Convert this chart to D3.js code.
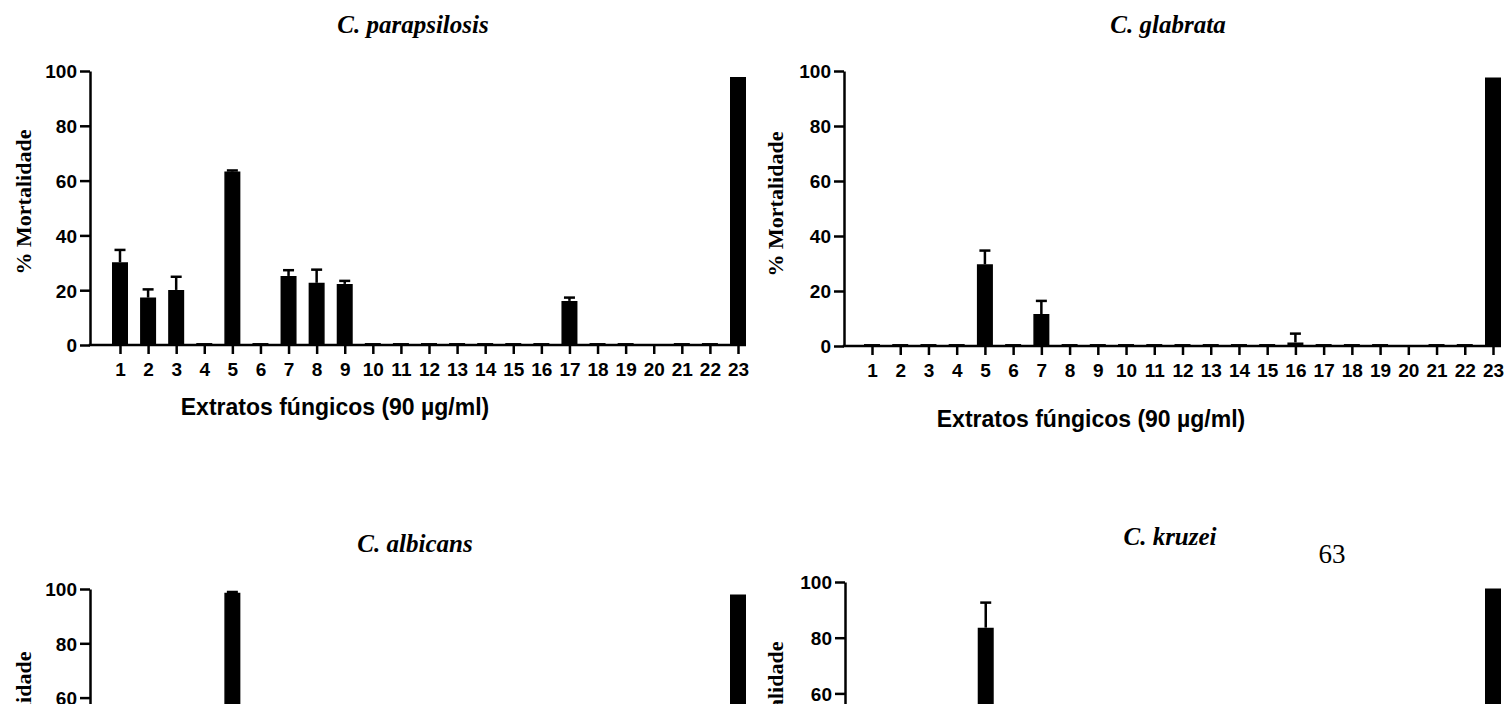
<!DOCTYPE html>
<html>
<head>
<meta charset="utf-8">
<script src="https://cdn.jsdelivr.net/npm/d3@7"></script>
<style>
  html, body { margin: 0; padding: 0; background: #fff; }
  svg { display: block; }
  .sans { font-family: "Liberation Sans", Arial, sans-serif; font-weight: bold; }
  .serif { font-family: "Liberation Serif", "Times New Roman", serif; font-weight: bold; }
</style>
</head>
<body>
<svg id="chart" width="1506" height="704"></svg>
<script>
// ---------------- DATA ----------------
const categories = ["1","2","3","4","5","6","7","8","9","10","11","12","13","14","15","16","17","18","19","20","21","22","23"];
const yTicks = [0, 20, 40, 60, 80, 100];
const yLabel = "% Mortalidade";
const xLabel = "Extratos fúngicos (90 µg/ml)";
const pageNumber = "63";

const titles = ["C. parapsilosis", "C. glabrata", "C. albicans", "C. kruzei"];

// mean % mortality (null = no bar)
const parapsilosisMean = [30.2, 17.3, 20.1, 0, 63.3, 0, 25.2, 22.7, 22.3, 0, 0, 0, 0, 0, 0, 0, 16.1, 0, 0, null, 0, 0, 97.8];
const parapsilosisErr  = [4.5, 3.0, 4.8, 0, 0.4, 0, 2.1, 4.8, 1.1, 0, 0, 0, 0, 0, 0, 0, 1.2, 0, 0, null, 0, 0, 0];

const glabrataMean = [0, 0, 0, 0, 29.7, 0, 11.6, 0, 0, 0, 0, 0, 0, 0, 0, 1.3, 0, 0, 0, null, 0, 0, 97.6];
const glabrataErr  = [0, 0, 0, 0, 5.0, 0, 4.8, 0, 0, 0, 0, 0, 0, 0, 0, 3.2, 0, 0, 0, null, 0, 0, 0];

// only the upper part of these panels is visible in the picture
const albicansMean = [0, 0, 0, 0, 98.6, 0, 0, 0, 0, 0, 0, 0, 0, 0, 0, 0, 0, 0, 0, null, 0, 0, 98.0];
const albicansErr  = [0, 0, 0, 0, 0.3, 0, 0, 0, 0, 0, 0, 0, 0, 0, 0, 0, 0, 0, 0, null, 0, 0, 0];

const kruzeiMean = [0, 0, 0, 0, 83.6, 0, 0, 0, 0, 0, 0, 0, 0, 0, 0, 0, 0, 0, 0, null, 0, 0, 97.7];
const kruzeiErr  = [0, 0, 0, 0, 9.0, 0, 0, 0, 0, 0, 0, 0, 0, 0, 0, 0, 0, 0, 0, null, 0, 0, 0];

// ---------------- LAYOUT ----------------
const W = 1506, H = 704;
const panels = [
  { title: titles[0], mean: parapsilosisMean, err: parapsilosisErr,
    axisX: 90, y0: 345, y100: 71, xFirst: 120, xLast: 738,
    titlePos: [413, 33], yLabPos: [31, 202], xLabPos: [335, 415] },
  { title: titles[1], mean: glabrataMean, err: glabrataErr,
    axisX: 844, y0: 346, y100: 71, xFirst: 872, xLast: 1493,
    titlePos: [1168, 33], yLabPos: [783, 204], xLabPos: [1091, 427] },
  { title: titles[2], mean: albicansMean, err: albicansErr,
    axisX: 90, y0: 860.5, y100: 589, xFirst: 120, xLast: 738,
    titlePos: [415, 552], yLabPos: [31, 724], xLabPos: [335, 930] },
  { title: titles[3], mean: kruzeiMean, err: kruzeiErr,
    axisX: 845, y0: 860.5, y100: 582, xFirst: 873, xLast: 1493,
    titlePos: [1170, 545], yLabPos: [783, 714], xLabPos: [1091, 940] }
];

const svg = d3.select("#chart");
const BAR_W = 16;
const AXIS_W = 2.5;

panels.forEach(p => {
  const g = svg.append("g");
  const y = d3.scaleLinear().domain([0, 100]).range([p.y0, p.y100]);
  const x = d3.scalePoint().domain(categories).range([p.xFirst, p.xLast]);

  // bars
  const rows = categories.map((c, i) => ({ c, v: p.mean[i], e: p.err[i] }))
    .filter(d => d.v !== null);
  const base = p.y0 - 1.2;
  g.selectAll("path.bar").data(rows).join("path")
    .attr("class", "bar")
    .attr("d", d => {
      const cx = x(d.c);
      const top = Math.min(y(d.v), base);
      return `M${cx - BAR_W / 2 + 0.75},${base} V${top + 0.75} H${cx + BAR_W / 2 - 0.75} V${base} Z`;
    })
    .attr("fill", "#000").attr("stroke", "#000").attr("stroke-width", 1.5);

  // error bars (upper only)
  const errRows = rows.filter(d => d.e > 0);
  g.selectAll("line.err").data(errRows).join("line")
    .attr("x1", d => x(d.c)).attr("x2", d => x(d.c))
    .attr("y1", d => y(d.v)).attr("y2", d => y(d.v + d.e))
    .attr("stroke", "#000").attr("stroke-width", AXIS_W);
  g.selectAll("line.cap").data(errRows).join("line")
    .attr("x1", d => x(d.c) - 5.5).attr("x2", d => x(d.c) + 5.5)
    .attr("y1", d => y(d.v + d.e)).attr("y2", d => y(d.v + d.e))
    .attr("stroke", "#000").attr("stroke-width", AXIS_W);

  // y axis (only the ticks that fall inside the picture)
  const visibleTicks = yTicks.filter(t => y(t) < H + 6);
  const yAxis = d3.axisLeft(y).tickValues(visibleTicks).tickSize(10).tickSizeOuter(0).tickPadding(3);
  const ya = g.append("g").attr("transform", `translate(${p.axisX},0)`).call(yAxis);
  ya.select(".domain").attr("stroke", "#000").attr("stroke-width", AXIS_W);
  ya.selectAll(".tick line").attr("stroke", "#000").attr("stroke-width", AXIS_W);
  ya.selectAll(".tick text").attr("class", "sans").attr("font-size", 19).attr("fill", "#000")
    .attr("dy", "0.36em");

  // x axis (only when inside the picture)
  if (p.y0 < H) {
    const xAxis = d3.axisBottom(x).tickSize(9).tickSizeOuter(0).tickPadding(4);
    const xa = g.append("g").attr("transform", `translate(0,${p.y0})`).call(xAxis);
    xa.select(".domain").remove();
    xa.append("line")
      .attr("x1", p.axisX - AXIS_W / 2).attr("x2", p.xLast + BAR_W / 2)
      .attr("y1", 0).attr("y2", 0)
      .attr("stroke", "#000").attr("stroke-width", AXIS_W);
    xa.selectAll(".tick line").attr("stroke", "#000").attr("stroke-width", AXIS_W);
    xa.selectAll(".tick text").attr("class", "sans").attr("font-size", 19).attr("fill", "#000")
      .attr("dy", "0.95em");

    g.append("text").attr("class", "sans")
      .attr("x", p.xLabPos[0]).attr("y", p.xLabPos[1])
      .attr("text-anchor", "middle").attr("font-size", 23)
      .text(xLabel);
  }

  // titles
  g.append("text").attr("class", "serif")
    .attr("x", p.titlePos[0]).attr("y", p.titlePos[1])
    .attr("text-anchor", "middle").attr("font-size", 25).attr("font-style", "italic")
    .text(p.title);

  g.append("text").attr("class", "serif")
    .attr("transform", `translate(${p.yLabPos[0]},${p.yLabPos[1]}) rotate(-90)`)
    .attr("text-anchor", "middle").attr("font-size", 22)
    .text(yLabel);
});

svg.append("text")
  .attr("x", 1332).attr("y", 563)
  .attr("text-anchor", "middle")
  .attr("font-family", "'Liberation Serif', 'Times New Roman', serif")
  .attr("font-size", 27)
  .text(pageNumber);
</script>
</body>
</html>
